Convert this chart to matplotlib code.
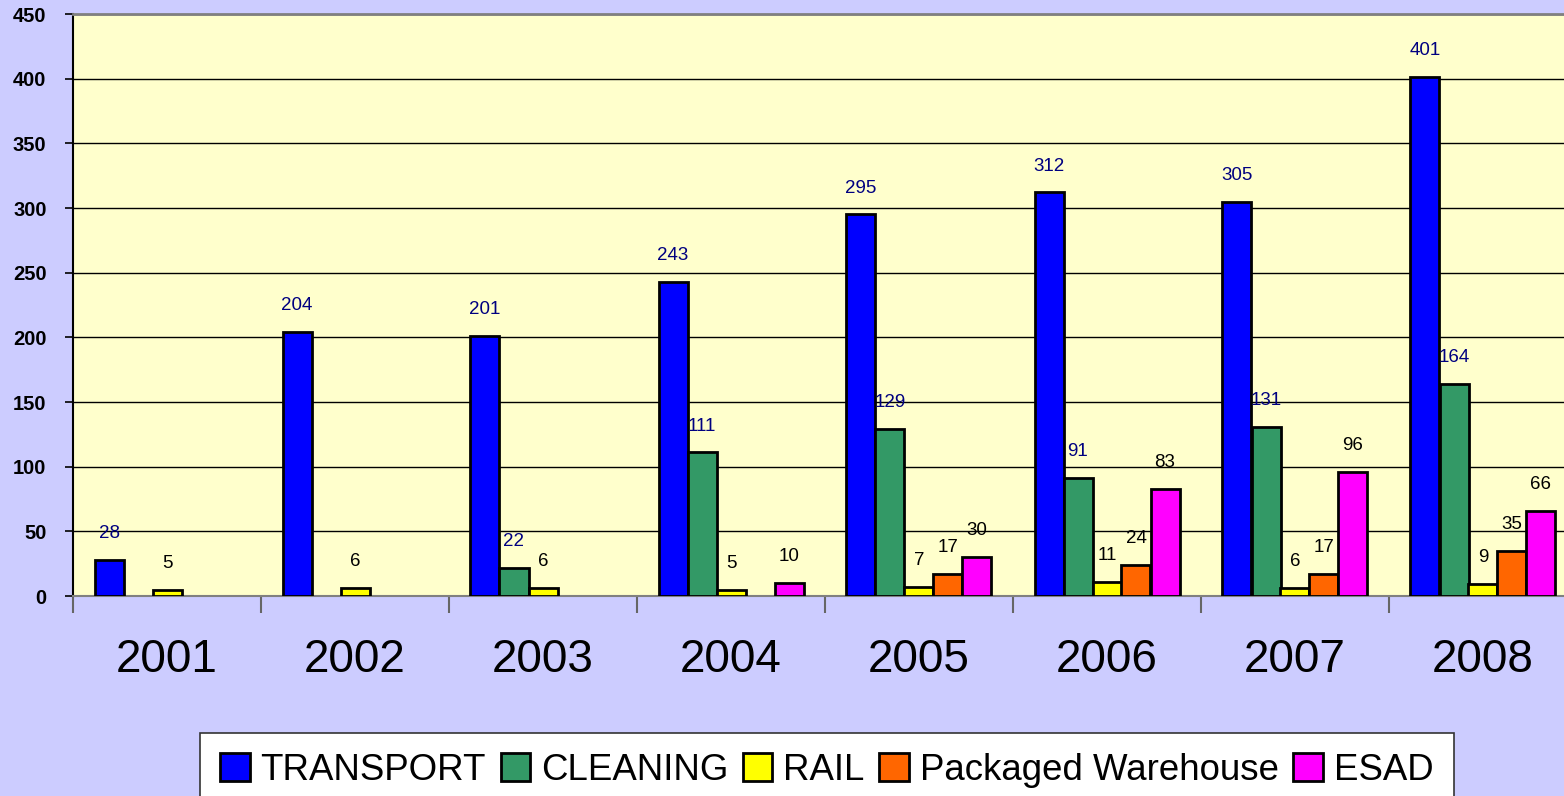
import numpy as np
import matplotlib.pyplot as plt

years = ['2001', '2002', '2003', '2004', '2005', '2006', '2007', '2008']
transport = [28, 204, 201, 243, 295, 312, 305, 401]
cleaning = [np.nan, np.nan, 22, 111, 129, 91, 131, 164]
rail = [5, 6, 6, 5, 7, 11, 6, 9]
packaged = [np.nan, np.nan, np.nan, np.nan, 17, 24, 17, 35]
esad = [np.nan, np.nan, np.nan, 10, 30, 83, 96, 66]

series = [transport, cleaning, rail, packaged, esad]
names = ['TRANSPORT', 'CLEANING', 'RAIL', 'Packaged Warehouse', 'ESAD']
colors = ['#0000FF', '#339966', '#FFFF00', '#FF6600', '#FF00FF']
label_colors = ['#000080', '#000080', 'black', 'black', 'black']

fig = plt.figure(figsize=(15.64, 7.96), dpi=100)
fig.patch.set_facecolor('#CCCCFF')
ax = fig.add_axes([73/1564, 200/796, 1504/1564, 582/796])
ax.set_facecolor('#FFFFCC')

x = np.arange(len(years))
w = 29/188
handles = []
for i, (vals, c, lc) in enumerate(zip(series, colors, label_colors)):
    pos = x + (i - 2)*w
    b = ax.bar(pos, vals, width=w, color=c, edgecolor='black', linewidth=2, zorder=3)
    handles.append(b)
    for xp, v in zip(pos, vals):
        if np.isnan(v):
            continue
        ax.annotate(str(int(v)), (xp, v), xytext=(0, 19), textcoords='offset points',
                    ha='center', va='center', fontsize=13.5, color=lc,
                    family='Liberation Sans', zorder=4)

ax.set_xlim(-0.5, 7.5)
ax.set_ylim(0, 450)
ax.set_yticks(np.arange(0, 451, 50))
ax.yaxis.grid(True, color='black', linewidth=1, zorder=1)
ax.set_axisbelow(True)
for lab in ax.get_yticklabels():
    lab.set_fontweight('bold')
    lab.set_family('Liberation Sans')
ax.tick_params(axis='y', length=6, width=1.2, labelsize=14.5, pad=13, color='black')

ax.set_xticks(x)
ax.set_xticklabels(years, fontsize=33, family='Liberation Sans')
ax.set_xticks(np.arange(-0.5, 8, 1), minor=True)
ax.tick_params(axis='x', which='major', length=0, pad=30)
ax.tick_params(axis='x', which='minor', length=12, width=1.5, color='#666666')

ax.spines['left'].set_color('black')
ax.spines['left'].set_linewidth(1.5)
ax.spines['top'].set_color('#808080')
ax.spines['top'].set_linewidth(2)
ax.spines['bottom'].set_color('#808080')
ax.spines['bottom'].set_linewidth(1.5)
ax.spines['right'].set_visible(False)

leg = fig.legend(handles, names, loc='lower left', bbox_to_anchor=(200/1564, -12/796),
                 ncol=5, frameon=True, fancybox=False, framealpha=1,
                 prop={'family': 'Liberation Sans', 'size': 26.4},
                 handlelength=0.8, handleheight=0.8, handletextpad=0.3,
                 columnspacing=0.4, borderpad=0.55, borderaxespad=0)
leg.get_frame().set_edgecolor('#333333')
leg.get_frame().set_facecolor('white')
leg.get_frame().set_linewidth(1.2)

fig.savefig('out.png', dpi=100, facecolor=fig.get_facecolor())
